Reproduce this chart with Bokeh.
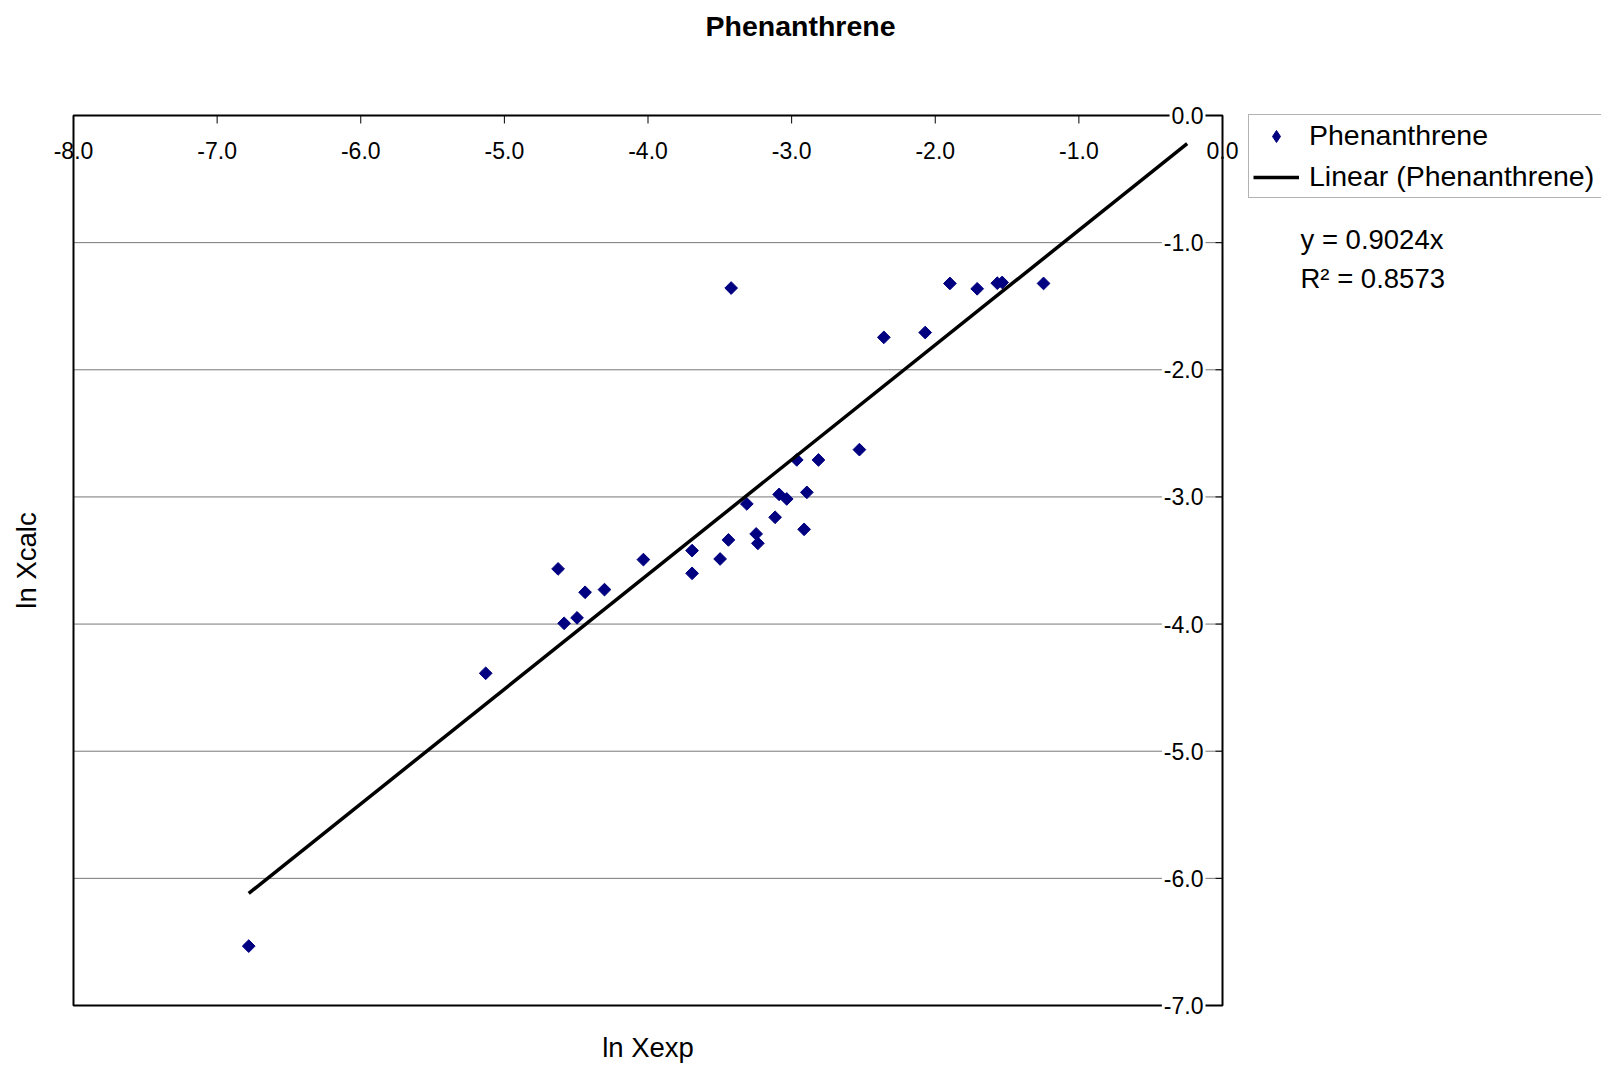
from math import pi

from bokeh.plotting import figure
from bokeh.models import Label, Legend, LegendItem, Range1d
from bokeh.embed import file_html
from bokeh.resources import INLINE

# Measured vs. calculated log mole fractions
ln_xexp = [-6.780, -5.130, -4.626, -4.584, -4.494, -4.438, -4.303, -4.032,
           -3.693, -3.693, -3.498, -3.440, -3.421, -3.312, -3.247, -3.235,
           -3.115, -3.087, -3.034, -2.964, -2.913, -2.894, -2.813, -2.528,
           -2.358, -2.070, -1.898, -1.708, -1.568, -1.534, -1.246]
ln_xcalc = [-6.533, -4.387, -3.566, -3.994, -3.951, -3.750, -3.729, -3.493,
            -3.422, -3.601, -3.488, -3.338, -1.357, -3.055, -3.291, -3.365,
            -3.160, -2.980, -3.016, -2.709, -3.255, -2.964, -2.709, -2.628,
            -1.745, -1.707, -1.321, -1.363, -1.319, -1.313, -1.321]

# Linear trendline through the origin, extended one unit forward
slope = 0.9024
r_squared = 0.8573
forecast_forward = 1.0

x_ticks = [-8.0, -7.0, -6.0, -5.0, -4.0, -3.0, -2.0, -1.0, 0.0]
y_ticks = [0.0, -1.0, -2.0, -3.0, -4.0, -5.0, -6.0, -7.0]

FONT = "Liberation Sans"
NAVY = "#000080"
W, H = 1601, 1065

# Pixel placement of the plotting box inside the canvas; the canvas itself is
# the frame so that labels and the legend around the box are not clipped.
BOX_L, BOX_R, BOX_T, BOX_B = 73, 1222, 115, 1005
x_min, x_max = x_ticks[0], x_ticks[-1]
y_min, y_max = y_ticks[-1], y_ticks[0]
ux = (x_max - x_min) / (BOX_R - BOX_L)
uy = (y_max - y_min) / (BOX_B - BOX_T)
x_range = Range1d(x_min - BOX_L * ux, x_max + (W - BOX_R) * ux)
y_range = Range1d(y_min - (H - BOX_B) * uy, y_max + BOX_T * uy)

p = figure(width=W, height=H, x_range=x_range, y_range=y_range,
           x_axis_location=None, y_axis_location=None, title_location=None,
           output_backend="svg", toolbar_location=None,
           min_border=0, min_border_left=0, min_border_right=0,
           min_border_top=0, min_border_bottom=0,
           background_fill_color="white", border_fill_color="white")
p.grid.visible = False
p.outline_line_color = None

# horizontal gridlines across the box
p.segment(x0=x_min, x1=x_max, y0=y_ticks, y1=y_ticks,
          line_color="#777777", line_width=1)

# data points (rotated squares) and trendline
pts = p.scatter(ln_xexp, ln_xcalc, marker="square", size=9, angle=pi / 4,
                fill_color=NAVY, line_color=NAVY)
trend_x = [min(ln_xexp), max(ln_xexp) + forecast_forward]
trend_y = [slope * v for v in trend_x]
trend = p.line(trend_x, trend_y, line_color="black", line_width=3.5)

# hidden copy of the points, used only for the diamond symbol in the legend
pts_key = p.scatter(ln_xexp, ln_xcalc, marker="diamond", size=16,
                    fill_color=NAVY, line_color=NAVY, visible=False)

# box border; x axis runs along the top (y = 0), y axis along the right (x = 0)
p.quad(left=x_min, right=x_max, bottom=y_min, top=y_max,
       fill_color=None, line_color="black", line_width=2)

# tick marks pointing into the box
p.ray(x=x_ticks, y=y_max, length=8, length_units="screen", angle=-pi / 2,
      line_color="black", line_width=1)
p.ray(x=x_max, y=y_ticks, length=7, length_units="screen", angle=pi,
      line_color="black", line_width=1)

# tick labels
for v in x_ticks:
    p.add_layout(Label(x=v, y=y_max, y_offset=-35, text=f"{v:.1f}",
                       text_align="center", text_baseline="middle",
                       text_font=FONT, text_font_size="23px", text_color="black"))
for v in y_ticks:
    p.add_layout(Label(x=x_max, y=v, x_offset=-17, text=f"{v:.1f}",
                       text_align="right", text_baseline="middle",
                       text_font=FONT, text_font_size="23px", text_color="black",
                       background_fill_color="white", padding=2))

# titles
p.add_layout(Label(x=x_max, y=y_max, x_offset=800 - BOX_R, y_offset=90,
                   text="Phenanthrene", text_align="center", text_baseline="middle",
                   text_font=FONT, text_font_size="28.5px", text_font_style="bold",
                   text_color="black"))
p.add_layout(Label(x=(x_min + x_max) / 2, y=y_min, y_offset=-42, text="ln Xexp",
                   text_align="center", text_baseline="middle",
                   text_font=FONT, text_font_size="27.5px", text_color="black"))
p.add_layout(Label(x=x_min, y=(y_min + y_max) / 2, x_offset=-47, text="ln Xcalc",
                   angle=pi / 2, text_align="center", text_baseline="middle",
                   text_font=FONT, text_font_size="27.5px", text_color="black"))

# trendline equation
p.add_layout(Label(x=x_max, y=y_max, x_offset=78, y_offset=-124,
                   text=f"y = {slope:.4f}x", text_align="left", text_baseline="middle",
                   text_font=FONT, text_font_size="27.5px", text_color="black"))
p.add_layout(Label(x=x_max, y=y_max, x_offset=78, y_offset=-163,
                   text=f"R\u00b2 = {r_squared:.4f}", text_align="left",
                   text_baseline="middle",
                   text_font=FONT, text_font_size="27.5px", text_color="black"))

legend = Legend(items=[LegendItem(label="Phenanthrene", renderers=[pts_key]),
                       LegendItem(label="Linear (Phenanthrene)", renderers=[trend])],
                location=(1248, H - 198), margin=0, padding=4, spacing=8,
                glyph_width=46, glyph_height=30, label_height=30, label_width=300,
                label_standoff=10, label_text_font=FONT, label_text_font_size="28.5px",
                label_text_color="black", click_policy="none",
                inactive_fill_alpha=0.0,
                border_line_color="#666666", border_line_width=1,
                background_fill_color="white", background_fill_alpha=1.0)
p.add_layout(legend, "center")

open("out.html", "w").write(file_html(p, INLINE))
